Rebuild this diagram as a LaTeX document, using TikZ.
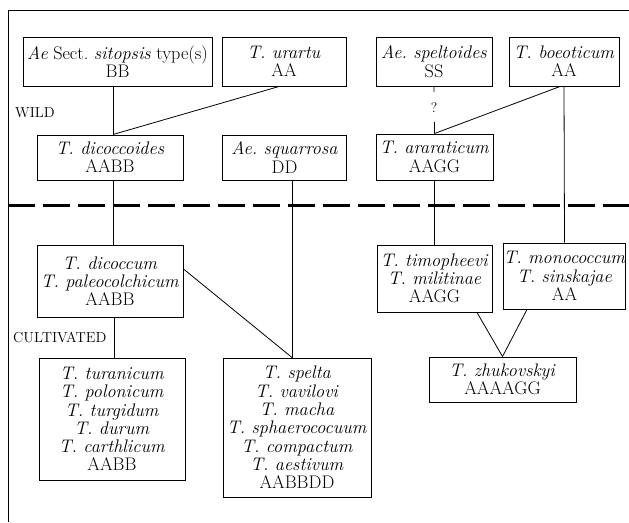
\documentclass[tikz,border=0pt]{standalone}
\usepackage{fontspec}
\frenchspacing
\begin{document}
\begin{tikzpicture}[x=1pt,y=-1pt,
  box/.style={draw,line width=1pt,inner sep=0pt,align=center,
    font=\fontsize{18.2}{18.3}\selectfont},
  link/.style={line width=0.8pt},
  zone/.style={font=\fontsize{14.5}{16}\selectfont,anchor=west,inner sep=0pt}]
\useasboundingbox (0,0) rectangle (629,522);

% frame
\draw[line width=1pt] (8,522) -- (8,10) -- (629,10);

% wild / cultivated divider
\draw[line width=3pt,dash pattern=on 27pt off 8pt] (8,205.5) -- (629,205.5);

% wild species
\node[box,minimum width=189,minimum height=49] (sit) at (117.5,61.5)
  {\textit{Ae} Sect. \textit{sitopsis} type(s)\\BB};
\node[box,minimum width=124,minimum height=49] (ura) at (284,61.5)
  {\textit{T. urartu}\\AA};
\node[box,minimum width=116,minimum height=49] (spe) at (434,61.5)
  {\textit{Ae. speltoides}\\SS};
\node[box,minimum width=110,minimum height=49] (boe) at (564,61.5)
  {\textit{T. boeoticum}\\AA};
\node[box,minimum width=146,minimum height=45] (dcd) at (110,157.5)
  {\textit{T. dicoccoides}\\AABB};
\node[box,minimum width=124,minimum height=45] (squ) at (284.5,157.5)
  {\textit{Ae. squarrosa}\\DD};
\node[box,minimum width=117,minimum height=46] (ara) at (434.5,157)
  {\textit{T. araraticum}\\AAGG};

% cultivated species
\node[box,minimum width=146,minimum height=72] (dcm) at (110,281)
  {\textit{T. dicoccum}\\\textit{T. paleocolchicum}\\AABB};
\node[box,minimum width=146,minimum height=122] (tur) at (112,419)
  {\textit{T. turanicum}\\\textit{T. polonicum}\\\textit{T. turgidum}\\
   \textit{T. durum}\\\textit{T. carthlicum}\\AABB};
\node[box,minimum width=148,minimum height=139] (spl) at (297,427.5)
  {\textit{T. spelta}\\\textit{T. vavilovi}\\\textit{T. macha}\\
   \textit{T. sphaerococuum}\\\textit{T. compactum}\\\textit{T. aestivum}\\AABBDD};
\node[box,minimum width=115,minimum height=67] (tim) at (434.5,278.5)
  {\textit{T. timopheevi}\\\textit{T. militinae}\\AAGG};
\node[box,minimum width=121,minimum height=66] (mon) at (564.5,276)
  {\textit{T. monococcum}\\\textit{T. sinskajae}\\AA};
\node[box,minimum width=147,minimum height=45] (zhu) at (502.5,379.5)
  {\textit{T. zhukovskyi}\\AAAAGG};

% zone labels
\node[zone] (wild) at (15,113) {WILD};
\node[zone] (cult) at (13,337) {CULTIVATED};

% descent lines
\draw[link] ([xshift=-4.5pt]sit.south) -- ([xshift=3pt]dcd.north);
\draw[link] ([xshift=-5pt]ura.south) -- ([xshift=3pt]dcd.north);
\draw[link,dash pattern=on 5.5pt off 30pt on 14pt] (spe.south) -- (ara.north);
\node[font=\fontsize{14}{14}\selectfont,inner sep=0pt] (qm) at (434,108) {?};
\draw[link] ([xshift=-4pt]boe.south) -- (ara.north);
\draw[link] (boe.south) -- (mon.north);
\draw[link] ([xshift=3pt]dcd.south) -- ([xshift=3pt]dcm.north);
\draw[link] ([xshift=4pt]dcm.south) -- ([xshift=2pt]tur.north);
\draw[link] ([yshift=12pt]dcm.east) -- ([xshift=-5pt]spl.north);
\draw[link] ([xshift=7.5pt]squ.south) -- ([xshift=-5pt]spl.north);
\draw[link] (ara.south) -- (tim.north);
\draw[link] ([xshift=42.5pt]tim.south) -- (zhu.north);
\draw[link] ([xshift=-37.5pt]mon.south) -- (zhu.north);
\end{tikzpicture}
\end{document}
